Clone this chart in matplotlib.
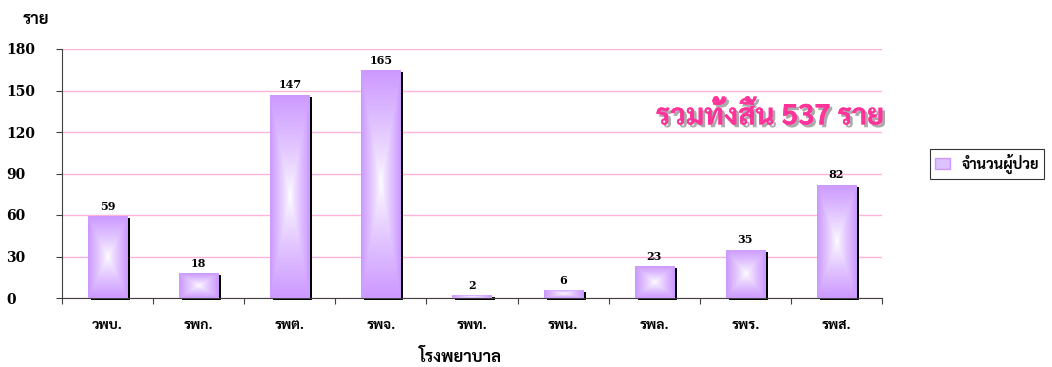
import matplotlib
matplotlib.use("Agg")
import matplotlib.pyplot as plt
import numpy as np
import matplotlib.transforms as mtransforms
import matplotlib.patheffects as pe
from matplotlib.patches import Patch

categories = ["วพบ.", "รพก.", "รพต.", "รพจ.", "รพท.", "รพน.", "รพล.", "รพร.", "รพส."]
values = [59, 18, 147, 165, 2, 6, 23, 35, 82]
yticks = [0, 30, 60, 90, 120, 150, 180]
series_name = "จำนวนผู้ป่วย"
y_label = "ราย"
x_label = "โรงพยาบาล"
total_note = "รวมทั้งสิ้น 537 ราย"

serif = ["DejaVu Serif", "Liberation Serif"]
thai = ["Sarabun", "FreeSerif", "DejaVu Sans"]

fig = plt.figure(figsize=(10.52, 3.67), dpi=100)
ax = fig.add_axes([62/1052, 1-298/367, 820/1052, 249/367])
x = np.arange(len(values))
w = 0.43

# shadows
shadow_tr = mtransforms.offset_copy(ax.transData, fig=fig, x=3, y=-2, units="dots")
ax.bar(x, values, width=w, color="black", transform=shadow_tr, zorder=2, clip_on=False)
bars = ax.bar(x, values, width=w, color="#cc99ff", zorder=3)

# gradient fill (from centre)
n = 200
u = np.linspace(-1, 1, n)
U, V = np.meshgrid(u, u)
t = np.maximum(np.abs(U), np.abs(V))
c0 = np.array([1.0, 1.0, 1.0])
c1 = np.array([0xcc, 0x99, 0xff]) / 255
img = c0 + (c1 - c0) * t[..., None] ** 0.8
for b in bars:
    bx, by, bw, bh = b.get_x(), b.get_y(), b.get_width(), b.get_height()
    im = ax.imshow(img, extent=[bx, bx + bw, by, by + bh], aspect="auto", zorder=3.5, interpolation="bilinear")
    im.set_clip_path(b)

for xi, v in zip(x, values):
    ax.text(xi, v + 3, str(v), ha="center", va="bottom", fontsize=8, fontweight="bold", family=serif, zorder=5)

ax.set_xlim(-0.5, len(values) - 0.5)
ax.set_ylim(0, 180)
ax.set_yticks(yticks)
ax.set_yticklabels([str(v) for v in yticks], fontsize=10, fontweight="bold", family=serif)
for yl in ax.get_yticklabels():
    yl.set_horizontalalignment("left")
ax.set_xticks(np.arange(len(values) + 1) - 0.5)
ax.set_xticklabels([])
ax.set_xticks(x, minor=True)
ax.set_xticklabels(categories, minor=True, family=thai, fontsize=10, fontweight="bold")
ax.tick_params(axis="x", which="minor", length=0, pad=15)
ax.tick_params(axis="x", which="major", length=4, direction="out", color="#404040")
ax.tick_params(axis="y", length=4, direction="out", pad=36, color="#404040")
ax.grid(axis="y", color="#ffb3dc", linewidth=1, zorder=0)
ax.set_axisbelow(True)
for s in ["top", "right"]:
    ax.spines[s].set_visible(False)
ax.spines["left"].set_color("#404040")
ax.spines["bottom"].set_color("#404040")

fig.text(36/1052, 1-19/367, y_label, family=thai, fontsize=12, fontweight="bold", ha="center", va="center")
fig.text(460/1052, 1-357/367, x_label, family=thai, fontsize=12, fontweight="bold", ha="center", va="center")
fig.text(884/1052, 1-117/367, total_note, family=thai, fontsize=21, fontweight="bold", color="#ff3399",
         ha="right", va="center",
         path_effects=[pe.withSimplePatchShadow(offset=(2, -2), shadow_rgbFace="#888888", alpha=0.7), pe.Normal()])

leg = fig.legend(handles=[Patch(facecolor="#dcc2ff", edgecolor="#cc99ff")], labels=[series_name],
                 loc="center", bbox_to_anchor=(987/1052, 1-164/367),
                 prop={"family": thai, "size": 10.5, "weight": "bold"},
                 frameon=True, fancybox=False, edgecolor="black", handlelength=1.0, handleheight=0.8,
                 borderpad=0.35, handletextpad=0.8)
leg.get_frame().set_linewidth(0.8)

fig.savefig("out.png", dpi=100)
